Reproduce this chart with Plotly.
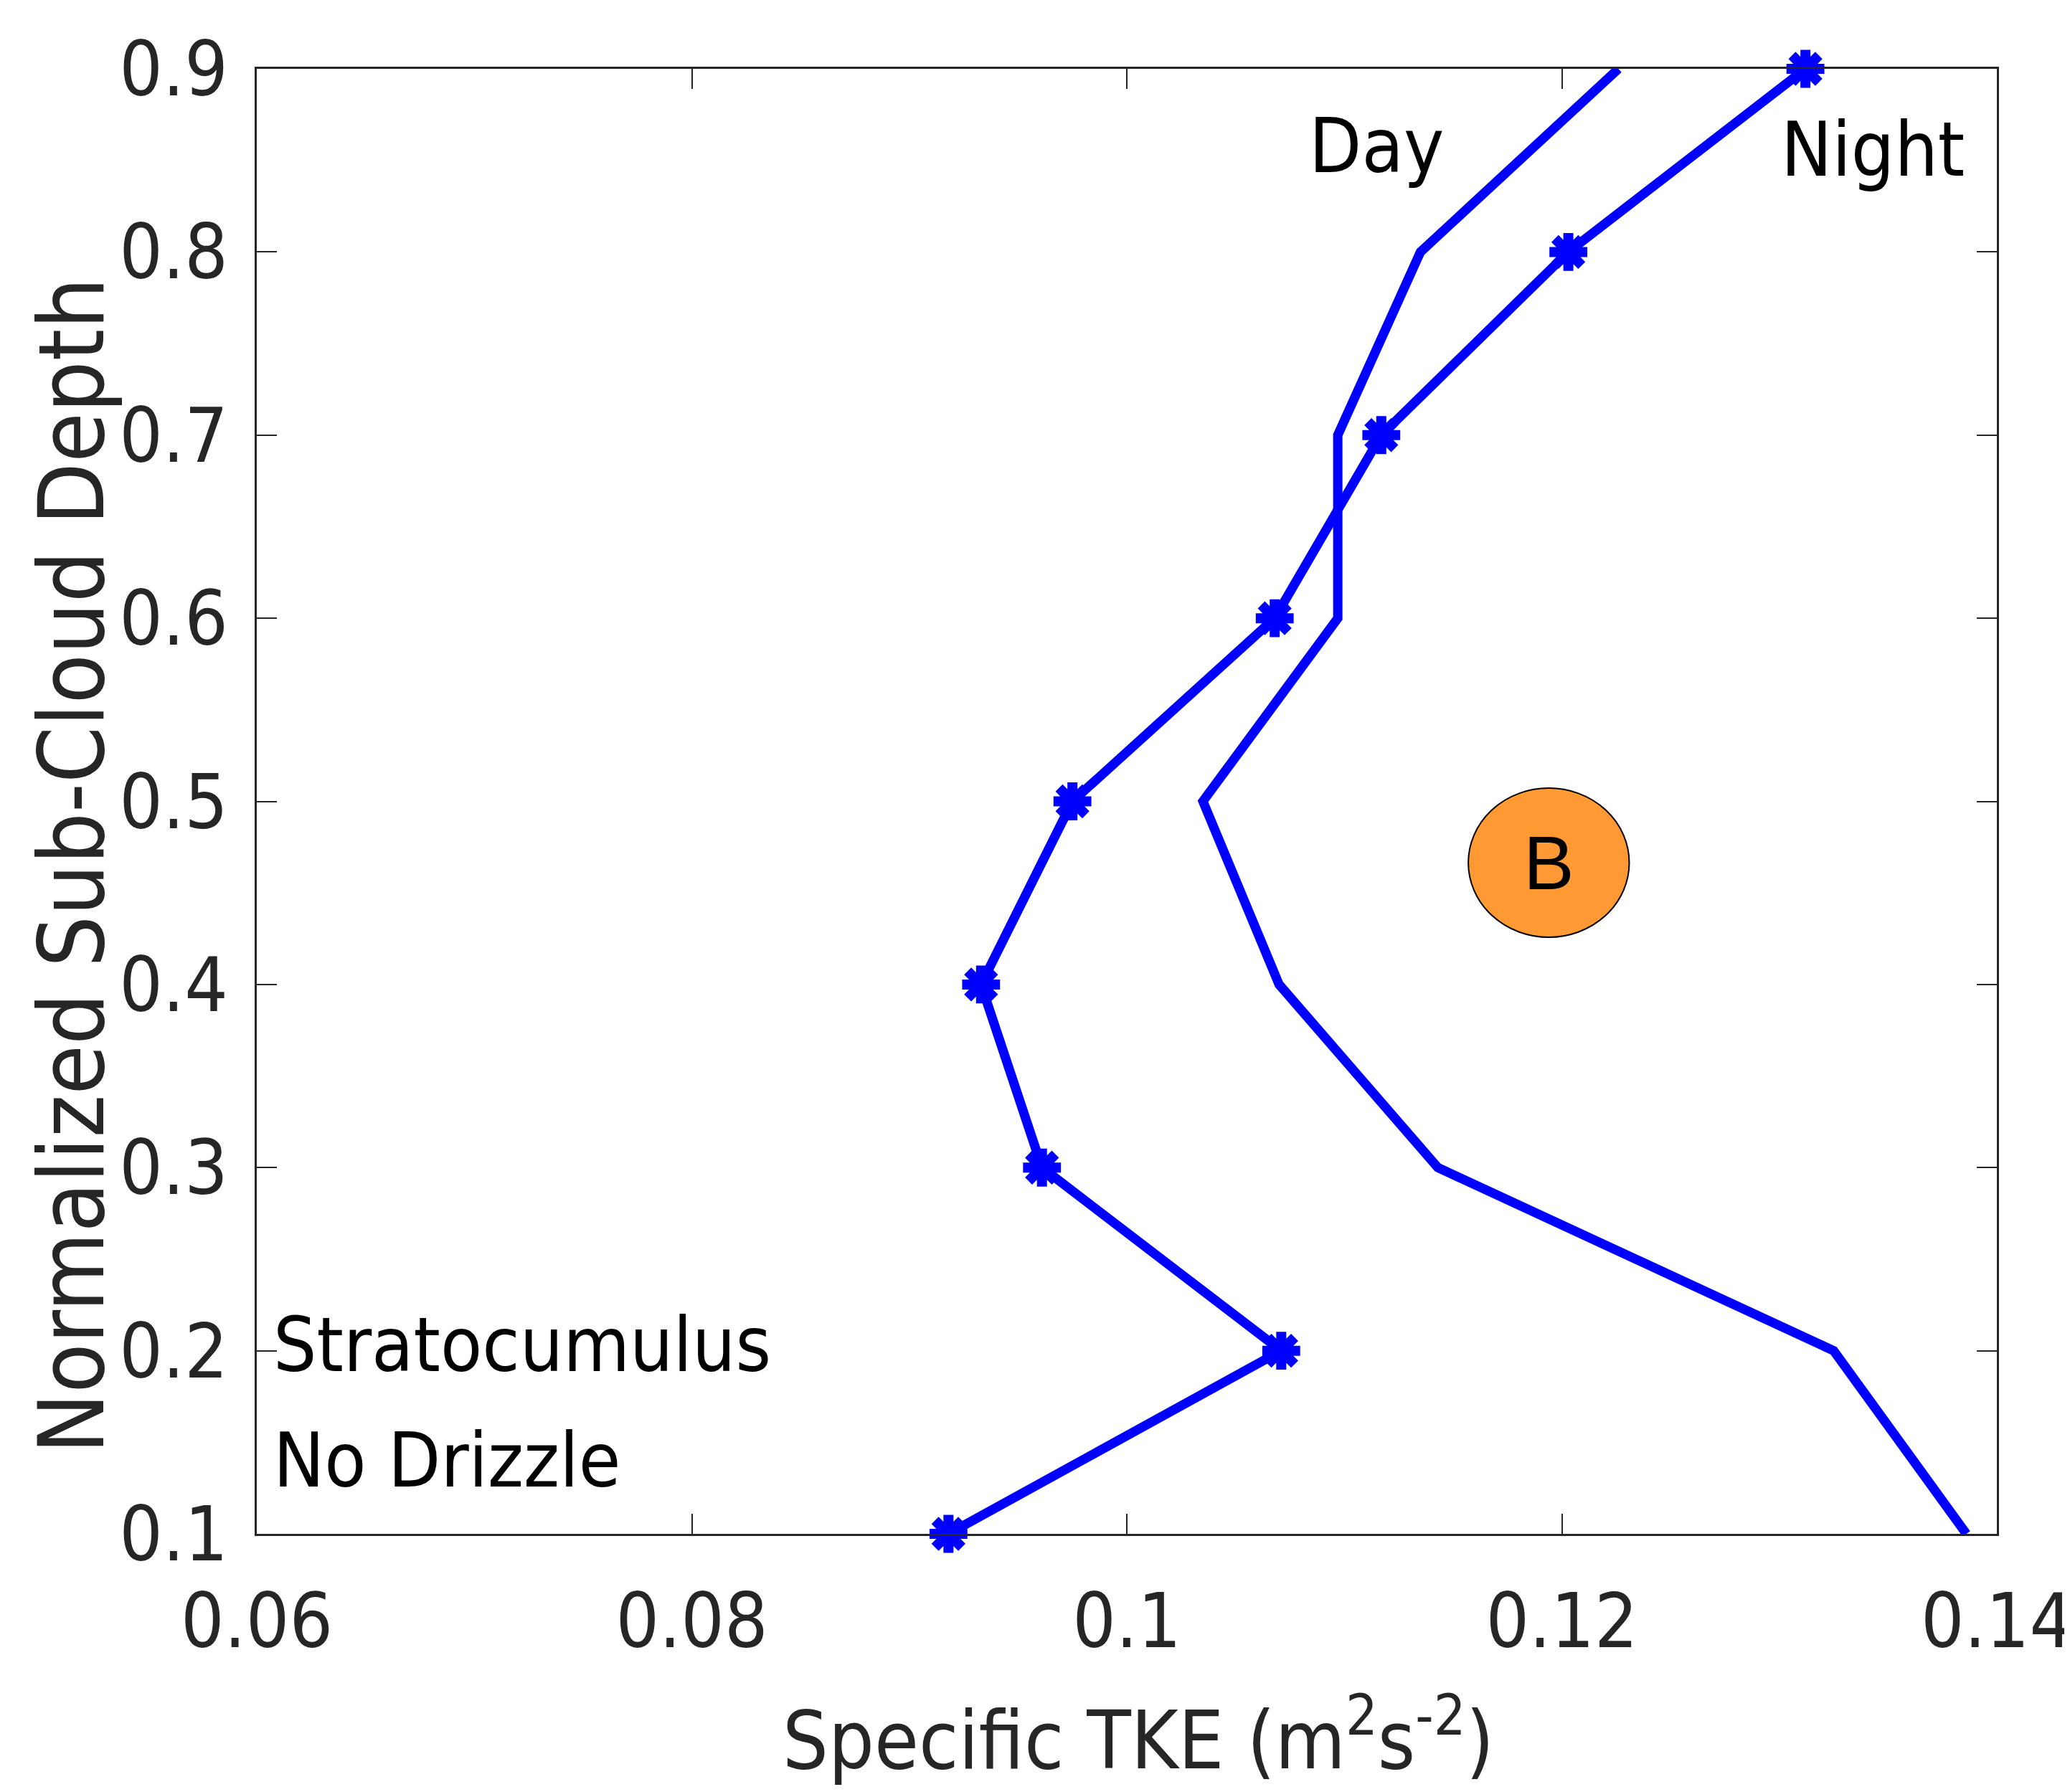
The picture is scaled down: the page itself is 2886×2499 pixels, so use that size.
import plotly.graph_objects as go

depth = [0.1, 0.2, 0.3, 0.4, 0.5, 0.6, 0.7, 0.8, 0.9]
tke_night = [0.0918, 0.1071, 0.0961, 0.0933, 0.0975, 0.1068, 0.1117, 0.1203, 0.1312]
tke_day = [0.1386, 0.1325, 0.1143, 0.1070, 0.1035, 0.1097, 0.1097, 0.1135, 0.1226]
x_ticks = [0.06, 0.08, 0.1, 0.12, 0.14]
x_tick_labels = ["0.06", "0.08", "0.1", "0.12", "0.14"]
y_ticks = [0.1, 0.2, 0.3, 0.4, 0.5, 0.6, 0.7, 0.8, 0.9]
y_tick_labels = ["0.1", "0.2", "0.3", "0.4", "0.5", "0.6", "0.7", "0.8", "0.9"]

FONT = "Liberation Sans Narrow, DejaVu Sans Condensed, Arial Narrow, sans-serif"
AX = "#262626"

fig = go.Figure()
fig.add_trace(go.Scatter(x=tke_day, y=depth, mode="lines",
                         line=dict(color="#0000FF", width=13), cliponaxis=False,
                         showlegend=False))
fig.add_trace(go.Scatter(x=tke_night, y=depth, mode="lines+markers",
                         line=dict(color="#0000FF", width=13),
                         marker=dict(symbol="asterisk-open", size=44, color="#0000FF",
                                     line=dict(color="#0000FF", width=14)),
                         cliponaxis=False, showlegend=False))

axis_common = dict(showline=True, linecolor=AX, linewidth=3, mirror="ticks",
                   ticks="inside", tickcolor=AX, tickwidth=2, ticklen=28,
                   showgrid=False, zeroline=False, automargin=False,
                   ticklabeloverflow="allow",
                   tickfont=dict(family=FONT, size=106, color=AX))

fig.update_xaxes(range=[0.06, 0.14], tickvals=x_ticks, ticktext=x_tick_labels,
                 ticklabelstandoff=28, **axis_common)
fig.update_yaxes(range=[0.1, 0.9], tickvals=y_ticks, ticktext=y_tick_labels,
                 ticklabelstandoff=16, **axis_common)

# axis titles as paper annotations to match the reference placement
fig.add_annotation(xref="paper", yref="paper", x=-0.1063, y=0.456,
                   text="Normalized Sub-Cloud Depth", textangle=-90, showarrow=False,
                   xanchor="center", yanchor="middle",
                   font=dict(family=FONT, size=126, color=AX))
fig.add_annotation(xref="paper", yref="paper", x=0.5066, y=-0.137,
                   text="Specific TKE (m<sup>2</sup>s<sup>-2</sup>)", showarrow=False,
                   xanchor="center", yanchor="middle",
                   font=dict(family=FONT, size=112, color=AX))

txt_font = dict(family=FONT, size=106, color="#000000")
fig.add_annotation(x=0.0607, y=0.203, text="Stratocumulus", showarrow=False,
                   xanchor="left", yanchor="middle", font=txt_font)
fig.add_annotation(x=0.0607, y=0.140, text="No Drizzle", showarrow=False,
                   xanchor="left", yanchor="middle", font=txt_font)
fig.add_annotation(x=0.1083, y=0.858, text="Day", showarrow=False, xanchor="left",
                   yanchor="middle", font=txt_font)
fig.add_annotation(x=0.1300, y=0.856, text="Night", showarrow=False, xanchor="left",
                   yanchor="middle", font=txt_font)

fig.add_shape(type="circle", xref="x", yref="y", x0=0.1157, x1=0.1231, y0=0.4258, y1=0.5072,
              fillcolor="#FF9933", line=dict(color="#000000", width=2))
fig.add_annotation(x=0.1194, y=0.4665, text="B", showarrow=False, xanchor="center",
                   yanchor="middle", font=dict(family="Liberation Sans, Arial, sans-serif",
                                               size=106, color="#000000"))

fig.update_layout(width=2886, height=2499, plot_bgcolor="white", paper_bgcolor="white",
                  margin=dict(l=350, r=110, t=88, b=368))

fig.write_html("out.html")
